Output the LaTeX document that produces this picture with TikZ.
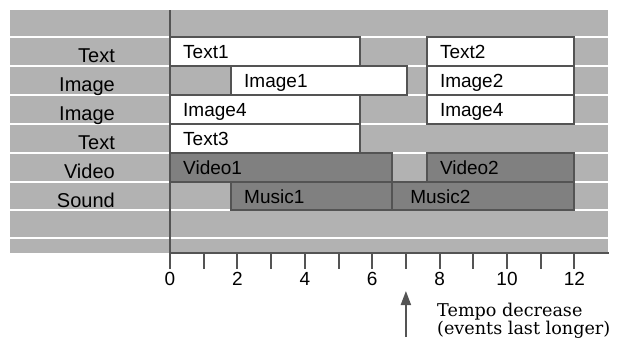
\documentclass[tikz,border=0pt]{standalone}
\usepackage{fontspec}
\setmainfont{Liberation Sans}
\newfontfamily\notefont{DejaVu Serif}
\usetikzlibrary{arrows.meta}
\definecolor{bandgray}{gray}{0.70}
\definecolor{evdark}{gray}{0.50}
\definecolor{rulegray}{gray}{0.33}

\begin{document}
\begin{tikzpicture}[x=1pt,y=-1pt,
  wbox/.style={draw=rulegray,line width=2pt,fill=white},
  dbox/.style={draw=rulegray,line width=2pt,fill=evdark},
  ev/.style={anchor=base west,inner sep=0pt,xshift=13pt,font=\fontsize{19}{19}\selectfont},
  track/.style={anchor=base east,inner sep=0pt,font=\fontsize{20}{20}\selectfont},
  axis/.style={rulegray,line width=2pt}]
\useasboundingbox (0,0) rectangle (618,343);
\fill[bandgray] (10,10) rectangle (608,253);
\foreach \y in {37,66,95,124,153,182,210,238}
  \draw[white,line width=1.5pt] (10,\y) -- (608,\y);
% track names
\node[track] (trk1) at (115,62) {Text};
\node[track] (trk2) at (115,91) {Image};
\node[track] (trk3) at (115,120) {Image};
\node[track] (trk4) at (115,149) {Text};
\node[track] (trk5) at (115,178) {Video};
\node[track] (trk6) at (115,207) {Sound};
\begin{scope}[shift={(170,0)},x=33.7pt]
% events before the change
\draw[wbox] (0,37) rectangle (5.64,66);
\node[ev] (text1) at (0,58.5) {Text1};
\draw[wbox] (1.81,66) rectangle (7.03,95);
\node[ev] (image1) at (1.81,87.5) {Image1};
\draw[wbox] (0,95) rectangle (5.64,124);
\node[ev] (image4a) at (0,116.5) {Image4};
\draw[wbox] (0,124) rectangle (5.64,153);
\node[ev] (text3) at (0,145.5) {Text3};
\draw[dbox] (0,153) rectangle (6.59,182);
\node[ev] (video1) at (0,174.5) {Video1};
\draw[dbox] (1.81,182) rectangle (6.59,210);
\node[ev] (music1) at (1.81,203.5) {Music1};
% events after the change
\draw[dbox] (6.59,182) rectangle (12,210);
\node[ev,xshift=5pt] (music2) at (6.59,203.5) {Music2};
\draw[wbox] (7.62,37) rectangle (12,66);
\node[ev] (text2) at (7.62,58.5) {Text2};
\draw[wbox] (7.62,66) rectangle (12,95);
\node[ev] (image2) at (7.62,87.5) {Image2};
\draw[wbox] (7.62,95) rectangle (12,124);
\node[ev] (image4b) at (7.62,116.5) {Image4};
\draw[dbox] (7.62,153) rectangle (12,182);
\node[ev] (video2) at (7.62,174.5) {Video2};
% time axis
\draw[axis] (0,10) -- (0,253) -- (13.03,253);
\foreach \k in {0,...,12}
  \draw[axis] (\k,253) -- (\k,269);
\foreach \k in {0,2,...,12}
  \node[anchor=base,inner sep=0pt,font=\fontsize{19}{19}\selectfont] (lab\k) at (\k,285) {\k};
% tempo change
\coordinate (tail) at (7,337);
\coordinate (tip) at (7,291);
\draw[axis,-{Triangle[length=14pt,width=10pt]}] (tail) -- (tip);
\end{scope}
\node[anchor=base west,align=left,inner sep=0pt,font=\notefont\fontsize{17.6}{17.5}\selectfont] (note) at (437,334) {Tempo decrease\\(events last longer)};
\end{tikzpicture}
\end{document}
